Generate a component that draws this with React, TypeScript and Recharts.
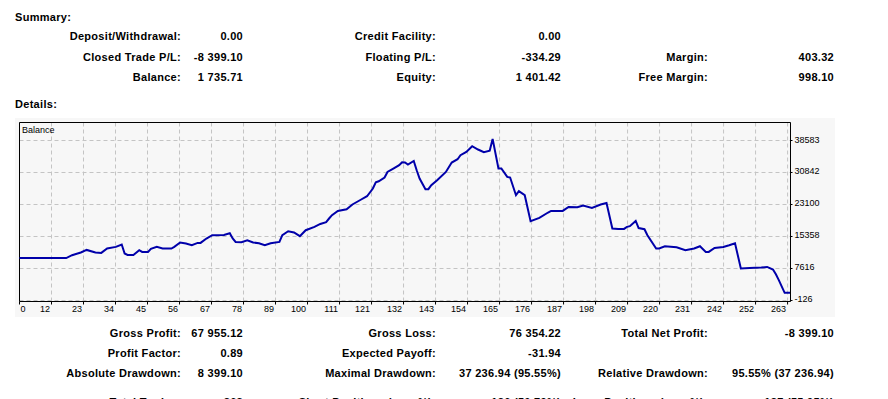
import { CartesianGrid, Line, LineChart, ReferenceLine, XAxis, YAxis } from 'recharts'

// trade number -> account balance
const TRADES = [
  0, 16, 18, 21, 23, 26, 28, 30, 33, 35, 36, 37, 39, 41, 42, 44, 45, 47, 49, 52, 53, 55, 57, 59, 61, 62, 64, 66, 70, 72,
  73, 74, 76, 78, 80, 82, 84, 86, 89, 90, 92, 94, 96, 98, 101, 103, 105, 106, 107, 109, 112, 114, 117, 119, 121, 122,
  123, 125, 126, 128, 130, 131, 132, 133, 135, 136, 137, 139, 140, 141, 143, 146, 148, 150, 151, 153, 155, 157, 159,
  161, 162, 164, 165, 167, 168, 170, 171, 173, 175, 178, 181, 182, 186, 188, 191, 193, 196, 199, 201, 203, 205, 207,
  208, 209, 211, 212, 214, 215, 218, 219, 221, 225, 228, 231, 233, 235, 236, 238, 241, 243, 245, 247, 250, 254, 256,
  258, 259, 260, 262, 264,
]
const BALANCE = [
  10135, 10135, 10830, 11490, 12110, 11490, 11390, 12450, 12840, 13420, 11240, 10900, 10900, 12040, 11630, 11630, 12360,
  12840, 12450, 12450, 12840, 13900, 13660, 13250, 13810, 13810, 14870, 15670, 15740, 16150, 14870, 14050, 13980, 14460,
  13900, 13740, 13250, 13740, 14050, 15670, 16640, 16320, 15430, 16880, 17680, 18400, 18820, 19710, 20510, 21550, 21960,
  23100, 24310, 25100, 26970, 28490, 28730, 29630, 30980, 31800, 32600, 33330, 33260, 32770, 33640, 31390, 29390, 26800,
  26800, 27770, 28980, 30980, 33260, 34050, 35020, 35820, 37200, 36400, 35750, 36100, 38971, 31800, 31800, 29770, 29630,
  25350, 26310, 25350, 19060, 19860, 21160, 21550, 21550, 22520, 22440, 22860, 22270, 23100, 23480, 17290, 17190, 17190,
  17680, 17850, 19130, 17400, 17120, 15670, 12450, 12450, 13010, 12770, 12040, 12450, 13010, 11630, 11630, 12600, 12840,
  13250, 13740, 7620, 7760, 7860, 8000, 7370, 6240, 4790, 1736, 1736,
]

const Y_TICKS = [-126, 7616, 15358, 23100, 30842, 38583]
const X_TICK_LABELS = [0, 12, 23, 34, 45, 56, 67, 78, 89, 100, 111, 121, 132, 143, 154, 165, 176, 187, 198, 209, 220, 231, 242, 252, 263]

const SUMMARY_LABELS = [
  ['Deposit/Withdrawal:', 'Closed Trade P/L:', 'Balance:'],
  ['Credit Facility:', 'Floating P/L:', 'Equity:'],
  ['', 'Margin:', 'Free Margin:'],
]
const SUMMARY_VALUES = [
  ['0.00', '-8 399.10', '1 735.71'],
  ['0.00', '-334.29', '1 401.42'],
  ['', '403.32', '998.10'],
]
const DETAIL_LABELS = [
  ['Gross Profit:', 'Profit Factor:', 'Absolute Drawdown:', 'Total Trades:'],
  ['Gross Loss:', 'Expected Payoff:', 'Maximal Drawdown:', 'Short Positions (won %):'],
  ['Total Net Profit:', '', 'Relative Drawdown:', 'Long Positions (won %):'],
]
const DETAIL_VALUES = [
  ['67 955.12', '0.89', '8 399.10', '263'],
  ['76 354.22', '-31.94', '37 236.94 (95.55%)', '126 (50.79%)'],
  ['-8 399.10', '', '95.55% (37 236.94)', '137 (55.95%)'],
]

const data = TRADES.map((t, i) => ({ trade: t, balance: BALANCE[i] }))
const X_STEP = 263 / 24
const X_TICKS = X_TICK_LABELS.map((_, i) => i * X_STEP)
const Y_MIN = -368
const Y_MAX = 42938

const LABEL_EDGES = [181, 436, 708]
const VALUE_EDGES = [243, 561, 834]

function Cell({ text, right, y }: { text: string; right: number; y: number }) {
  if (!text) return null
  return (
    <div
      style={{
        position: 'absolute',
        right: 888 - right,
        top: y - 7,
        height: 14,
        lineHeight: '14px',
        fontSize: 11,
        fontWeight: 'bold',
        letterSpacing: 0.3,
        whiteSpace: 'nowrap',
      }}
    >
      {text}
    </div>
  )
}

function StatBlock({ labels, values, rows }: { labels: string[][]; values: string[][]; rows: number[] }) {
  return (
    <>
      {labels.map((col, c) =>
        col.map((l, r) => (
          <div key={`${c}-${r}`}>
            <Cell text={l} right={LABEL_EDGES[c]} y={rows[r]} />
            <Cell text={values[c][r]} right={VALUE_EDGES[c]} y={rows[r]} />
          </div>
        )),
      )}
    </>
  )
}

function XTick({ x, y, index }: { x?: number; y?: number; index?: number }) {
  const i = index ?? 0
  return (
    <text
      x={i === 0 ? (x ?? 0) + 1 : (x ?? 0) - 1.5}
      y={(y ?? 0) + 7}
      textAnchor={i === 0 ? 'start' : 'end'}
      fontSize={9}
      fill="#000"
    >
      {X_TICK_LABELS[i]}
    </text>
  )
}

function YTick({ x, y, payload }: { x?: number; y?: number; payload?: { value: number } }) {
  return (
    <text x={(x ?? 0) + 1} y={(y ?? 0) + 2} textAnchor="start" fontSize={9} fill="#000">
      {payload?.value}
    </text>
  )
}

export default function App() {
  return (
    <div
      style={{
        position: 'absolute',
        left: 0,
        top: 0,
        width: 888,
        height: 399,
        overflow: 'hidden',
        background: '#fff',
        color: '#000',
        fontFamily: '"Liberation Sans", Arial, sans-serif',
      }}
    >
      <div style={{ position: 'absolute', left: 15, top: 10, fontSize: 11, fontWeight: 'bold', letterSpacing: 0.3, lineHeight: '14px' }}>
        Summary:
      </div>
      <StatBlock labels={SUMMARY_LABELS} values={SUMMARY_VALUES} rows={[36.3, 56.7, 77.3]} />
      <div style={{ position: 'absolute', left: 15, top: 97, fontSize: 11, fontWeight: 'bold', letterSpacing: 0.3, lineHeight: '14px' }}>
        Details:
      </div>

      <div style={{ position: 'absolute', left: 15, top: 118, width: 820, height: 199, background: '#f7f7f7' }}>
        <LineChart width={820} height={199} data={data} margin={{ top: 4.5, right: 0, bottom: 0, left: 4.5 }}>
          <CartesianGrid stroke="#c4c4c4" strokeDasharray="4 3" />
          <XAxis
            type="number"
            dataKey="trade"
            domain={[0, 264]}
            ticks={X_TICKS}
            interval={0}
            height={15.5}
            tickSize={3}
            tickMargin={0}
            tick={<XTick />}
            axisLine={{ stroke: '#000' }}
            tickLine={{ stroke: '#000' }}
          />
          <YAxis
            orientation="right"
            type="number"
            domain={[Y_MIN, Y_MAX]}
            ticks={Y_TICKS}
            interval={0}
            width={44.5}
            tickSize={2}
            tickMargin={1}
            tick={<YTick />}
            axisLine={{ stroke: '#000' }}
            tickLine={{ stroke: '#000' }}
          />
          <ReferenceLine x={0} stroke="#000" />
          <ReferenceLine y={Y_MAX} stroke="#000" />
          <Line
            type="linear"
            dataKey="balance"
            stroke="#0000aa"
            strokeWidth={2}
            dot={false}
            isAnimationActive={false}
          />
        </LineChart>
        <div style={{ position: 'absolute', left: 7, top: 7, fontSize: 9, lineHeight: '11px' }}>Balance</div>
      </div>

      <StatBlock labels={DETAIL_LABELS} values={DETAIL_VALUES} rows={[333.3, 353.3, 373.3, 401.5]} />
    </div>
  )
}
